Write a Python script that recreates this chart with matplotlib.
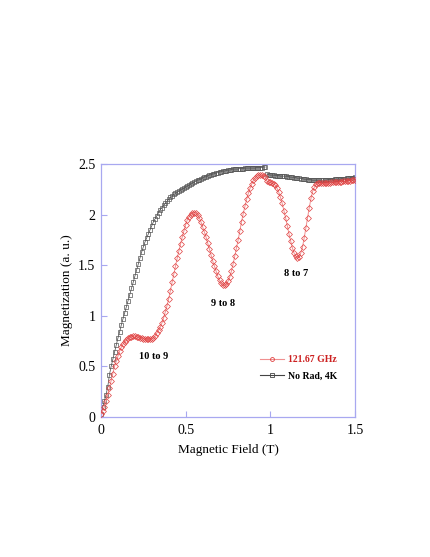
import numpy as np
import matplotlib
matplotlib.use("Agg")
import matplotlib.pyplot as plt
from matplotlib.lines import Line2D

# ---------------- data ----------------
red_field = np.round(np.arange(0.0, 1.501, 0.01), 2)
red_mag = [
    0.03, 0.06, 0.10, 0.16, 0.22, 0.29, 0.36, 0.43, 0.50, 0.55,   # 0.00-0.09
    0.60, 0.65, 0.69, 0.72, 0.74, 0.76, 0.78, 0.79, 0.795, 0.80,  # 0.10-0.19
    0.80, 0.795, 0.79, 0.785, 0.78, 0.775, 0.77, 0.77, 0.77, 0.77,  # 0.20-0.29
    0.775, 0.78, 0.80, 0.83, 0.86, 0.89, 0.93, 0.98, 1.04, 1.10,  # 0.30-0.39
    1.17, 1.25, 1.33, 1.41, 1.49, 1.57, 1.64, 1.71, 1.78, 1.84,   # 0.40-0.49
    1.90, 1.95, 1.98, 2.00, 2.02, 2.02, 2.02, 2.00, 1.97, 1.93,   # 0.50-0.59
    1.88, 1.83, 1.78, 1.72, 1.66, 1.60, 1.54, 1.49, 1.44, 1.39,   # 0.60-0.69
    1.35, 1.32, 1.30, 1.30, 1.31, 1.34, 1.38, 1.44, 1.51, 1.59,   # 0.70-0.79
    1.67, 1.75, 1.84, 1.93, 2.01, 2.08, 2.15, 2.21, 2.26, 2.30,   # 0.80-0.89
    2.34, 2.36, 2.38, 2.39, 2.39, 2.39, 2.38, 2.37, 2.33, 2.32,   # 0.90-0.99
    2.32, 2.31, 2.30, 2.29, 2.26, 2.22, 2.17, 2.11, 2.04, 1.97,   # 1.00-1.09
    1.89, 1.81, 1.74, 1.67, 1.62, 1.59, 1.57, 1.58, 1.62, 1.68,   # 1.10-1.19
    1.77, 1.87, 1.97, 2.07, 2.16, 2.23, 2.27, 2.30, 2.31, 2.31,   # 1.20-1.29
    2.31, 2.31, 2.31, 2.31, 2.315, 2.315, 2.32, 2.32, 2.32, 2.32,  # 1.30-1.39
    2.32, 2.325, 2.325, 2.33, 2.33, 2.33, 2.335, 2.335, 2.34, 2.34,  # 1.40-1.49
    2.34,                                                          # 1.50
]

black_field_a = np.round(np.arange(0.0, 0.971, 0.01), 2)
black_mag_a = [
    0.03, 0.10, 0.16, 0.22, 0.30, 0.42, 0.50, 0.57, 0.64, 0.71,   # 0.00-0.09
    0.78, 0.84, 0.91, 0.97, 1.03, 1.09, 1.15, 1.21, 1.27, 1.33,   # 0.10-0.19
    1.39, 1.45, 1.51, 1.57, 1.63, 1.68, 1.73, 1.77, 1.81, 1.85,   # 0.20-0.29
    1.89, 1.93, 1.96, 1.99, 2.02, 2.05, 2.07, 2.09, 2.11, 2.13,   # 0.30-0.39
    2.15, 2.17, 2.18, 2.20, 2.21, 2.22, 2.23, 2.24, 2.25, 2.26,   # 0.40-0.49
    2.27, 2.28, 2.29, 2.30, 2.31, 2.32, 2.33, 2.34, 2.345, 2.35,  # 0.50-0.59
    2.36, 2.37, 2.375, 2.38, 2.39, 2.395, 2.40, 2.405, 2.41, 2.415,  # 0.60-0.69
    2.42, 2.425, 2.43, 2.43, 2.435, 2.44, 2.44, 2.445, 2.45, 2.45,   # 0.70-0.79
    2.45, 2.45, 2.455, 2.455, 2.455, 2.46, 2.46, 2.46, 2.46, 2.46,   # 0.80-0.89
    2.46, 2.46, 2.465, 2.465, 2.465, 2.465, 2.47, 2.47,              # 0.90-0.97
]
black_field_b = np.round(np.arange(0.98, 1.501, 0.01), 2)
black_mag_b = [
    2.40, 2.395, 2.39, 2.39, 2.39, 2.385, 2.385, 2.385, 2.38, 2.38,  # 0.98-1.07
    2.38, 2.38, 2.375, 2.375, 2.37, 2.37, 2.365, 2.365, 2.36, 2.36,  # 1.08-1.17
    2.355, 2.355, 2.35, 2.35, 2.345, 2.345, 2.345, 2.34, 2.34, 2.34,  # 1.18-1.27
    2.34, 2.34, 2.34, 2.34, 2.34, 2.34, 2.345, 2.345, 2.345, 2.345,  # 1.28-1.37
    2.35, 2.35, 2.35, 2.35, 2.355, 2.355, 2.355, 2.36, 2.36, 2.36,   # 1.38-1.47
    2.365, 2.365, 2.37,                                              # 1.48-1.50
]

annot_text = ["10 to 9", "9 to 8", "8 to 7"]
annot_x = [0.31, 0.72, 1.15]
annot_y = [0.60, 1.12, 1.42]

xticks = [0, 0.5, 1, 1.5]
xtick_labels = ["0", "0.5", "1", "1.5"]
yticks = [0, 0.5, 1, 1.5, 2, 2.5]
ytick_labels = ["0", "0.5", "1", "1.5", "2", "2.5"]

# ---------------- plot ----------------
plt.rcParams['font.family'] = ['Liberation Serif', 'DejaVu Serif']

fig = plt.figure(figsize=(4.31, 5.57), dpi=100)
ax = fig.add_axes([0.2343, 0.2513, 0.5894, 0.4543])

red = '#e04040'
black = '#444444'

ax.plot(black_field_a, black_mag_a, color=black, lw=0.5, marker='s', ms=3.4,
        mfc='none', mec='#555555', mew=0.5, zorder=2)
ax.plot(black_field_b, black_mag_b, color=black, lw=0.5, marker='s', ms=3.4,
        mfc='none', mec='#555555', mew=0.5, zorder=2)
ax.plot(red_field, red_mag, color='#f09090', lw=0.7, marker='D', ms=3.0,
        mfc='none', mec=red, mew=0.5, zorder=3)

for t, x, y in zip(annot_text, annot_x, annot_y):
    ax.text(x, y, t, ha='center', va='center', fontsize=7.5, fontweight='bold')

ax.set_xlim(0, 1.5)
ax.set_ylim(0, 2.5)
ax.set_xticks(xticks)
ax.set_xticklabels(xtick_labels)
ax.set_yticks(yticks)
ax.set_yticklabels(ytick_labels)

spine_col = '#a8a8f0'
for s in ax.spines.values():
    s.set_color(spine_col)
    s.set_linewidth(0.9)
ax.tick_params(direction='in', length=4, width=0.8, color=spine_col,
               labelsize=10, labelcolor='black')
ax.tick_params(axis='x', pad=5)
ax.tick_params(axis='y', pad=4)

ax.set_xlabel('Magnetic Field (T)', fontsize=9.5, labelpad=5)
ax.set_ylabel('Magnetization (a. u.)', fontsize=9.5, labelpad=4)

handles = [
    Line2D([], [], color='#f09090', lw=0.8, marker='o', ms=2.8, mfc='none', mec=red, mew=0.6),
    Line2D([], [], color=black, lw=0.8, marker='s', ms=3.3, mfc='none', mec=black, mew=0.6),
]
leg = ax.legend(handles, ['121.67 GHz', 'No Rad, 4K'], loc='lower right',
                bbox_to_anchor=(0.965, 0.11), frameon=False, handlelength=2.5,
                handletextpad=0.4, labelspacing=0.75,
                prop={'size': 7, 'weight': 'bold'})
leg.get_texts()[0].set_color('#cc2020')
leg.get_texts()[1].set_color('black')

fig.savefig('out.png', dpi=100)
